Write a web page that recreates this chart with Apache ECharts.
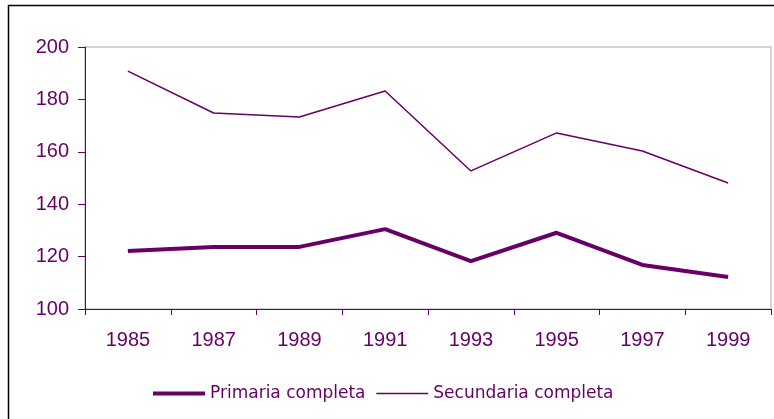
<!DOCTYPE html>
<html>
<head>
<meta charset="utf-8">
<script src="https://cdn.jsdelivr.net/npm/echarts@6/dist/echarts.min.js"></script>
<style>
  html, body { margin: 0; padding: 0; background: #fff; }
  #chart { width: 774px; height: 419px; }
</style>
</head>
<body>
<div id="chart"></div>
<script>
var years = ['1985', '1987', '1989', '1991', '1993', '1995', '1997', '1999'];
var primaria = [122.1, 123.7, 123.7, 130.5, 118.3, 129.1, 116.8, 112.2];
var secundaria = [190.8, 174.8, 173.3, 183.2, 152.7, 167.2, 160.3, 148.1];

var purple = '#660066';
var axisFont = '"Liberation Sans", Arial, sans-serif';

var myChart = echarts.init(document.getElementById('chart'));

var option = {
    animation: false,
    graphic: [{
        type: 'rect',
        shape: { x: 8.5, y: 5.5, width: 800, height: 500 },
        style: { fill: 'none', stroke: '#000', lineWidth: 1.5 },
        silent: true
    }],
    grid: {
        left: 85, right: 3, top: 47, bottom: 110,
        show: true,
        borderColor: '#c8c8c8',
        borderWidth: 1.5
    },
    legend: {
        left: 146, top: 380,
        itemWidth: 52, itemHeight: 14, itemGap: 10,
        itemStyle: { color: 'rgba(0,0,0,0)', borderWidth: 0 },
        textStyle: { color: purple, fontSize: 17, fontFamily: '"Comic Sans MS", "DejaVu Sans", sans-serif' },
        data: [
            { name: 'Primaria completa', lineStyle: { width: 4, color: purple } },
            { name: 'Secundaria completa', lineStyle: { width: 1.5, color: purple } }
        ]
    },
    xAxis: {
        type: 'category',
        data: years,
        boundaryGap: true,
        axisLine: { lineStyle: { color: purple, width: 1 } },
        axisTick: { show: true, length: 6, lineStyle: { color: purple } },
        axisLabel: { color: purple, fontSize: 20, fontFamily: axisFont, margin: 21 },
        splitLine: { show: false }
    },
    yAxis: {
        type: 'value',
        min: 100, max: 200, interval: 20,
        axisLine: { show: true, lineStyle: { color: purple, width: 1 } },
        axisTick: { show: true, length: 7, lineStyle: { color: purple } },
        axisLabel: { color: purple, fontSize: 20, fontFamily: axisFont, margin: 16 },
        splitLine: { show: false }
    },
    series: [{
        name: 'Primaria completa',
        type: 'line',
        data: primaria,
        symbol: 'none',
        lineStyle: { color: purple, width: 4 },
        itemStyle: { color: purple }
    }, {
        name: 'Secundaria completa',
        type: 'line',
        data: secundaria,
        symbol: 'none',
        lineStyle: { color: purple, width: 1.5 },
        itemStyle: { color: purple }
    }]
};

myChart.setOption(option);
</script>
</body>
</html>
